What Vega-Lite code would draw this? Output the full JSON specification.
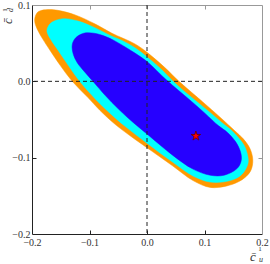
{
  "$schema": "https://vega.github.io/schema/vega-lite/v6.json",
  "width": 230,
  "height": 229,
  "autosize": {"type": "none"},
  "padding": {"left": 32, "top": 5, "right": 8, "bottom": 30},
  "config": {"view": {"stroke": null}, "font": "Liberation Serif"},
  "datasets": {
    "orange": [
      {"i":1,"x":-0.195,"y":0.083},{"i":2,"x":-0.191,"y":0.090},{"i":3,"x":-0.183,"y":0.093},{"i":4,"x":-0.169,"y":0.094},{"i":5,"x":-0.155,"y":0.093},{"i":6,"x":-0.125,"y":0.087},{"i":7,"x":-0.090,"y":0.075},{"i":8,"x":-0.061,"y":0.063},{"i":9,"x":-0.021,"y":0.049},{"i":10,"x":0.000,"y":0.038},{"i":11,"x":0.031,"y":0.018},{"i":12,"x":0.057,"y":-0.001},{"i":13,"x":0.097,"y":-0.027},{"i":14,"x":0.127,"y":-0.047},{"i":15,"x":0.153,"y":-0.065},{"i":16,"x":0.167,"y":-0.075},{"i":17,"x":0.179,"y":-0.088},{"i":18,"x":0.184,"y":-0.103},{"i":19,"x":0.181,"y":-0.116},{"i":20,"x":0.172,"y":-0.125},{"i":21,"x":0.158,"y":-0.132},{"i":22,"x":0.139,"y":-0.137},{"i":23,"x":0.110,"y":-0.139},{"i":24,"x":0.080,"y":-0.130},{"i":25,"x":0.045,"y":-0.111},{"i":26,"x":0.000,"y":-0.087},{"i":27,"x":-0.030,"y":-0.071},{"i":28,"x":-0.056,"y":-0.056},{"i":29,"x":-0.082,"y":-0.038},{"i":30,"x":-0.103,"y":-0.021},{"i":31,"x":-0.130,"y":0.000},{"i":32,"x":-0.151,"y":0.021},{"i":33,"x":-0.169,"y":0.041},{"i":34,"x":-0.181,"y":0.055},{"i":35,"x":-0.190,"y":0.067},{"i":36,"x":-0.195,"y":0.077}
    ],
    "cyan": [
      {"i":1,"x":-0.174,"y":0.067},{"i":2,"x":-0.169,"y":0.075},{"i":3,"x":-0.158,"y":0.080},{"i":4,"x":-0.143,"y":0.082},{"i":5,"x":-0.120,"y":0.079},{"i":6,"x":-0.090,"y":0.070},{"i":7,"x":-0.064,"y":0.060},{"i":8,"x":-0.042,"y":0.053},{"i":9,"x":-0.021,"y":0.044},{"i":10,"x":0.000,"y":0.032},{"i":11,"x":0.023,"y":0.017},{"i":12,"x":0.044,"y":0.001},{"i":13,"x":0.060,"y":-0.010},{"i":14,"x":0.084,"y":-0.025},{"i":15,"x":0.110,"y":-0.041},{"i":16,"x":0.130,"y":-0.054},{"i":17,"x":0.148,"y":-0.065},{"i":18,"x":0.158,"y":-0.073},{"i":19,"x":0.169,"y":-0.084},{"i":20,"x":0.174,"y":-0.094},{"i":21,"x":0.176,"y":-0.106},{"i":22,"x":0.170,"y":-0.117},{"i":23,"x":0.160,"y":-0.125},{"i":24,"x":0.139,"y":-0.131},{"i":25,"x":0.110,"y":-0.132},{"i":26,"x":0.080,"y":-0.124},{"i":27,"x":0.045,"y":-0.106},{"i":28,"x":0.000,"y":-0.081},{"i":29,"x":-0.038,"y":-0.059},{"i":30,"x":-0.064,"y":-0.042},{"i":31,"x":-0.090,"y":-0.023},{"i":32,"x":-0.117,"y":0.000},{"i":33,"x":-0.137,"y":0.021},{"i":34,"x":-0.155,"y":0.041},{"i":35,"x":-0.165,"y":0.052},{"i":36,"x":-0.172,"y":0.061}
    ],
    "blue": [
      {"i":1,"x":-0.130,"y":0.048},{"i":2,"x":-0.124,"y":0.057},{"i":3,"x":-0.110,"y":0.063},{"i":4,"x":-0.092,"y":0.063},{"i":5,"x":-0.073,"y":0.059},{"i":6,"x":-0.056,"y":0.053},{"i":7,"x":-0.038,"y":0.045},{"i":8,"x":-0.021,"y":0.037},{"i":9,"x":0.000,"y":0.026},{"i":10,"x":0.017,"y":0.014},{"i":11,"x":0.035,"y":0.001},{"i":12,"x":0.055,"y":-0.012},{"i":13,"x":0.077,"y":-0.026},{"i":14,"x":0.101,"y":-0.042},{"i":15,"x":0.124,"y":-0.058},{"i":16,"x":0.140,"y":-0.067},{"i":17,"x":0.153,"y":-0.078},{"i":18,"x":0.162,"y":-0.091},{"i":19,"x":0.164,"y":-0.103},{"i":20,"x":0.157,"y":-0.114},{"i":21,"x":0.134,"y":-0.123},{"i":22,"x":0.110,"y":-0.123},{"i":23,"x":0.080,"y":-0.115},{"i":24,"x":0.045,"y":-0.097},{"i":25,"x":0.000,"y":-0.069},{"i":26,"x":-0.030,"y":-0.050},{"i":27,"x":-0.050,"y":-0.036},{"i":28,"x":-0.072,"y":-0.019},{"i":29,"x":-0.094,"y":0.000},{"i":30,"x":-0.108,"y":0.012},{"i":31,"x":-0.121,"y":0.024},{"i":32,"x":-0.128,"y":0.035}
    ],
    "star": [{"x": 0.085, "y": -0.0716}],
    "one": [{}]
  },
  "layer": [
    {
      "data": {"name": "orange"},
      "mark": {"type": "line", "color": "#ff9900", "fill": "#ff9900", "strokeWidth": 0.5, "interpolate": "catmull-rom-closed"},
      "encoding": {
        "x": {"field": "x", "type": "quantitative", "scale": {"domain": [-0.2, 0.2], "nice": false, "zero": false},
          "axis": {"orient": "bottom", "values": [-0.2, -0.1, 0, 0.1, 0.2], "format": ".1f", "title": null, "grid": false, "ticks": false,
            "domainColor": "#222", "labelPadding": 3, "labelFontSize": 10, "labelColor": "#333", "labelFlush": false, "labelOverlap": false}},
        "y": {"field": "y", "type": "quantitative", "scale": {"domain": [-0.2, 0.1], "nice": false, "zero": false},
          "axis": {"orient": "left", "values": [-0.2, -0.1, 0, 0.1], "format": ".1f", "title": null, "grid": false, "ticks": false,
            "domainColor": "#222", "labelPadding": 2, "labelFontSize": 10, "labelColor": "#333", "labelFlush": false, "labelOverlap": false}},
        "order": {"field": "i", "type": "quantitative"}
      }
    },
    {
      "data": {"name": "cyan"},
      "mark": {"type": "line", "color": "#00ffff", "fill": "#00ffff", "strokeWidth": 0.5, "interpolate": "catmull-rom-closed"},
      "encoding": {
        "x": {"field": "x", "type": "quantitative", "axis": null},
        "y": {"field": "y", "type": "quantitative", "axis": null},
        "order": {"field": "i", "type": "quantitative"}
      }
    },
    {
      "data": {"name": "blue"},
      "mark": {"type": "line", "color": "#2600ff", "fill": "#2600ff", "strokeWidth": 0.5, "interpolate": "catmull-rom-closed"},
      "encoding": {
        "x": {"field": "x", "type": "quantitative", "axis": null},
        "y": {"field": "y", "type": "quantitative", "axis": null},
        "order": {"field": "i", "type": "quantitative"}
      }
    },
    {
      "data": {"name": "one"},
      "mark": {"type": "rule", "color": "#222", "strokeWidth": 1, "strokeDash": [4, 3]},
      "encoding": {
        "x": {"datum": 0, "type": "quantitative",
          "axis": {"orient": "top", "values": [-0.2, -0.1, 0, 0.1, 0.2], "labels": false, "title": null, "grid": false, "ticks": false, "domainColor": "#999"}}
      }
    },
    {
      "data": {"name": "one"},
      "mark": {"type": "rule", "color": "#222", "strokeWidth": 1, "strokeDash": [4, 3]},
      "encoding": {
        "y": {"datum": 0, "type": "quantitative",
          "axis": {"orient": "right", "values": [-0.2, -0.1, 0, 0.1], "labels": false, "title": null, "grid": false, "ticks": false, "domainColor": "#999"}}
      }
    },
    {
      "data": {"name": "one"},
      "mark": {"type": "rule", "strokeOpacity": 0},
      "encoding": {
        "x": {"datum": 0, "type": "quantitative",
          "axis": {"orient": "top", "offset": -229, "values": [-0.1, 0, 0.1], "labels": false, "title": null, "grid": false, "domain": false, "tickSize": 4, "tickColor": "#222"}}
      }
    },
    {
      "data": {"name": "one"},
      "mark": {"type": "rule", "strokeOpacity": 0},
      "encoding": {
        "x": {"datum": 0, "type": "quantitative",
          "axis": {"orient": "bottom", "offset": -229, "values": [-0.1, 0, 0.1], "labels": false, "title": null, "grid": false, "domain": false, "tickSize": 4, "tickColor": "#999"}}
      }
    },
    {
      "data": {"name": "one"},
      "mark": {"type": "rule", "strokeOpacity": 0},
      "encoding": {
        "y": {"datum": 0, "type": "quantitative",
          "axis": {"orient": "right", "offset": -230, "values": [-0.1, 0], "labels": false, "title": null, "grid": false, "domain": false, "tickSize": 4, "tickColor": "#222"}}
      }
    },
    {
      "data": {"name": "one"},
      "mark": {"type": "rule", "strokeOpacity": 0},
      "encoding": {
        "y": {"datum": 0, "type": "quantitative",
          "axis": {"orient": "left", "offset": -230, "values": [-0.1, 0], "labels": false, "title": null, "grid": false, "domain": false, "tickSize": 4, "tickColor": "#999"}}
      }
    },
    {
      "data": {"name": "star"},
      "mark": {"type": "point", "shape": "M0,-1L0.225,-0.309L0.951,-0.309L0.363,0.118L0.588,0.809L0,0.382L-0.588,0.809L-0.363,0.118L-0.951,-0.309L-0.225,-0.309Z", "filled": true, "fill": "#ff0000", "stroke": "#660000", "strokeWidth": 0.8, "size": 100, "opacity": 1},
      "encoding": {
        "x": {"field": "x", "type": "quantitative", "axis": null},
        "y": {"field": "y", "type": "quantitative", "axis": null}
      }
    },
    {
      "data": {"name": "one"},
      "mark": {"type": "text", "text": "c̄", "fontSize": 13, "fontStyle": "italic", "color": "#333", "dx": -9, "dy": 23, "align": "center", "baseline": "middle"},
      "encoding": {"x": {"datum": 0.2, "type": "quantitative", "axis": null}, "y": {"datum": -0.2, "type": "quantitative", "axis": null}}
    },
    {
      "data": {"name": "one"},
      "mark": {"type": "text", "text": "1", "fontSize": 7, "color": "#333", "dx": -2, "dy": 15, "align": "center", "baseline": "middle"},
      "encoding": {"x": {"datum": 0.2, "type": "quantitative", "axis": null}, "y": {"datum": -0.2, "type": "quantitative", "axis": null}}
    },
    {
      "data": {"name": "one"},
      "mark": {"type": "text", "text": "u", "fontSize": 8, "fontStyle": "italic", "color": "#333", "dx": -1, "dy": 26, "align": "center", "baseline": "middle"},
      "encoding": {"x": {"datum": 0.2, "type": "quantitative", "axis": null}, "y": {"datum": -0.2, "type": "quantitative", "axis": null}}
    },
    {
      "data": {"name": "one"},
      "mark": {"type": "text", "text": "c̄", "fontSize": 13, "fontStyle": "italic", "color": "#333", "angle": 270, "dx": -16, "dy": -24, "align": "center", "baseline": "middle"},
      "encoding": {"x": {"datum": -0.2, "type": "quantitative", "axis": null}, "y": {"datum": 0.1, "type": "quantitative", "axis": null}}
    },
    {
      "data": {"name": "one"},
      "mark": {"type": "text", "text": "1", "fontSize": 7, "color": "#333", "angle": 270, "dx": -5, "dy": -27, "align": "center", "baseline": "middle"},
      "encoding": {"x": {"datum": -0.2, "type": "quantitative", "axis": null}, "y": {"datum": 0.1, "type": "quantitative", "axis": null}}
    },
    {
      "data": {"name": "one"},
      "mark": {"type": "text", "text": "d", "fontSize": 8, "fontStyle": "italic", "color": "#333", "angle": 270, "dx": -5, "dy": -21, "align": "center", "baseline": "middle"},
      "encoding": {"x": {"datum": -0.2, "type": "quantitative", "axis": null}, "y": {"datum": 0.1, "type": "quantitative", "axis": null}}
    }
  ],
  "resolve": {"axis": {"x": "independent", "y": "independent"}}
}
